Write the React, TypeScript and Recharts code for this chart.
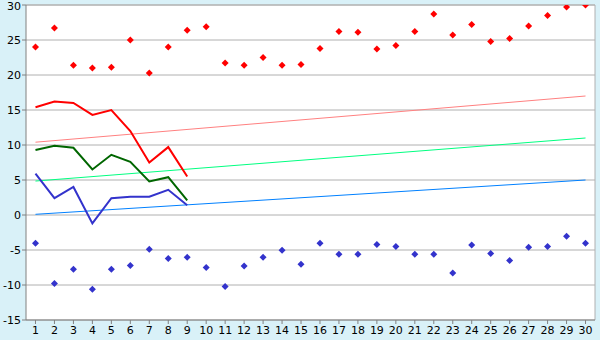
import { ComposedChart, Line, XAxis, YAxis, CartesianGrid, ReferenceLine } from "recharts"

const days = Array.from({ length: 30 }, (_, i) => i + 1)

const maxTemps = [24.0, 26.7, 21.4, 21.0, 21.1, 25.0, 20.3, 24.0, 26.4, 26.9, 21.7, 21.4, 22.5, 21.4, 21.5,
  23.8, 26.2, 26.1, 23.7, 24.2, 26.2, 28.7, 25.7, 27.2, 24.8, 25.2, 27.0, 28.5, 29.7, 30.0]
const minTemps = [-4.05, -9.8, -7.75, -10.6, -7.75, -7.2, -4.9, -6.2, -6.05, -7.5, -10.2, -7.3, -6.05, -5.05, -7.05,
  -4.05, -5.6, -5.6, -4.2, -4.5, -5.6, -5.6, -8.3, -4.3, -5.5, -6.5, -4.6, -4.5, -3.05, -4.05]

const highLine = [15.4, 16.2, 16.0, 14.3, 15.0, 12.0, 7.5, 9.7, 5.5]
const meanLine = [9.3, 9.9, 9.6, 6.5, 8.6, 7.6, 4.8, 5.4, 2.1]
const lowLine = [5.9, 2.4, 4.0, -1.2, 2.4, 2.6, 2.6, 3.6, 1.4]

// trend endpoints (day 1, day 30)
const highTrend = [10.4, 17.0]
const meanTrend = [4.85, 11.0]
const lowTrend = [0.1, 5.0]

const yTicks = [-15, -10, -5, 0, 5, 10, 15, 20, 25, 30]

const data = days.map((d, i) => ({
  day: d,
  max: maxTemps[i],
  min: minTemps[i],
  high: i < highLine.length ? highLine[i] : null,
  mean: i < meanLine.length ? meanLine[i] : null,
  low: i < lowLine.length ? lowLine[i] : null,
  hTrend: i === 0 ? highTrend[0] : i === days.length - 1 ? highTrend[1] : null,
  mTrend: i === 0 ? meanTrend[0] : i === days.length - 1 ? meanTrend[1] : null,
  lTrend: i === 0 ? lowTrend[0] : i === days.length - 1 ? lowTrend[1] : null,
}))

// small diamond marker
const Diamond = (color: string) => (props: any) => {
  const { cx, cy, key } = props
  if (cx == null || cy == null) return <g key={key} />
  const r = 3.5
  return (
    <path
      key={key}
      d={`M${cx},${cy - r} L${cx + r},${cy} L${cx},${cy + r} L${cx - r},${cy} Z`}
      fill={color}
      stroke="none"
    />
  )
}

const tickStyle = { fontFamily: "DejaVu Sans", fontSize: 11, fill: "#000" }

export default function App() {
  return (
    <div style={{ position: "absolute", left: 0, top: 0, width: 600, height: 340, background: "#d9f1f8" }}>
      <ComposedChart width={600} height={340} data={data} margin={{ top: 5, right: 5, bottom: 0, left: 0 }}>
        <CartesianGrid vertical={false} stroke="#b0b0b0" fill="#ffffff" />
        <XAxis
          dataKey="day"
          type="number"
          domain={[0.5, 30.5]}
          ticks={days}
          interval={0}
          height={20}
          tick={tickStyle}
          tickSize={4}
          stroke="#808080"
        />
        <YAxis
          domain={[-15, 30]}
          ticks={yTicks}
          width={26}
          tick={tickStyle}
          tickSize={4}
          tickMargin={1}
          stroke="#808080"
          allowDataOverflow
        />
        <ReferenceLine x={30.5} stroke="#b0b0b0" />
        <ReferenceLine y={30} stroke="#b0b0b0" />
        <Line dataKey="hTrend" stroke="#ff8080" strokeWidth={1} dot={false} connectNulls isAnimationActive={false} />
        <Line dataKey="mTrend" stroke="#00ff80" strokeWidth={1} dot={false} connectNulls isAnimationActive={false} />
        <Line dataKey="lTrend" stroke="#0080ff" strokeWidth={1} dot={false} connectNulls isAnimationActive={false} />
        <Line dataKey="high" stroke="#ff0000" strokeWidth={2} dot={false} isAnimationActive={false} />
        <Line dataKey="mean" stroke="#006600" strokeWidth={2} dot={false} isAnimationActive={false} />
        <Line dataKey="low" stroke="#3333cc" strokeWidth={2} dot={false} isAnimationActive={false} />
        <Line dataKey="max" stroke="none" dot={Diamond("#ff0000")} activeDot={false} isAnimationActive={false} />
        <Line dataKey="min" stroke="none" dot={Diamond("#3333cc")} activeDot={false} isAnimationActive={false} />
      </ComposedChart>
    </div>
  )
}
